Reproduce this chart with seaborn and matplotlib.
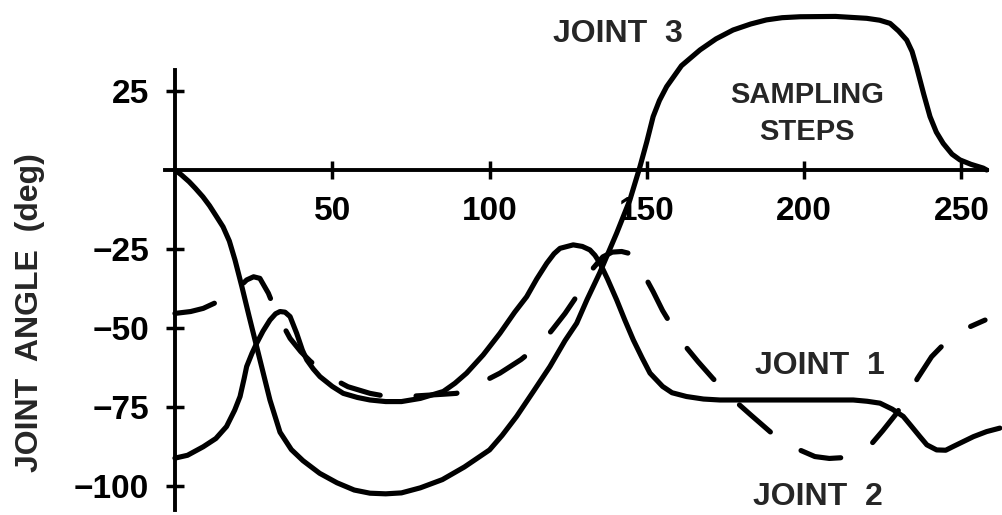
import numpy as np
import pandas as pd
import seaborn as sns
from matplotlib import pyplot as plt

# joint angle (deg) against sampling step
j1_step = [0, 4, 9, 13, 16.4, 19, 20.7, 22, 22.8, 24.5, 26, 28, 30.2, 32, 33.4, 35, 36.6, 38.7,
           40.5, 41.9, 44, 46.1, 50, 53.5, 58, 62, 67, 72, 78, 85.3, 89, 92.7, 98, 103.3, 108,
           111.8, 115, 118.2, 120.5, 122.4, 126.6, 129.5, 131.9, 133.5, 135.1, 137.5, 140.4, 143,
           145.7, 148.5, 151, 155, 158, 162.6, 168, 173.2, 185, 200, 215.6, 220, 224.1, 228, 231.5,
           234, 236.8, 239, 242.1, 245, 247.4, 250.5, 253.8, 258, 262.2]
j1_deg = [-91.2, -90.3, -87.6, -85, -81.2, -76, -71.7, -66, -62.2, -58, -54.8, -51, -47.5, -45.5,
          -44.8, -45, -46.4, -51.7, -57, -60.1, -63, -65.4, -68.5, -70.7, -72, -72.8, -73.3, -73.3,
          -72.3, -70.1, -67.5, -64.3, -58.5, -51.7, -45, -40.1, -34.5, -29.5, -26.5, -24.8, -23.7,
          -24.2, -25.3, -27, -29.5, -34.5, -41.1, -47.5, -53.8, -59.5, -64.3, -68.5, -70.5, -71.7,
          -72.5, -72.8, -72.8, -72.8, -72.8, -73.2, -73.8, -75.7, -78, -81, -84.4, -87, -88.6,
          -88.7, -87.5, -86, -84.4, -82.8, -81.7]

j2_step = [0, 5, 9, 14, 18.5, 22.8, 25, 27, 29.7, 32.3, 36.6, 40, 43, 46, 49.3, 55, 62, 68, 73.6,
           80, 85, 89.5, 94, 99, 103.3, 110, 116.5, 120, 124, 127, 129.8, 133, 136, 139, 142, 144,
           146.2, 149, 152, 155, 158.4, 162, 166.3, 171, 177, 183, 189.7, 196, 203.4, 208, 213,
           217, 221.4, 225, 229, 232.6, 236, 240.5, 245, 251.6, 257.5]
j2_deg = [-45.4, -44.8, -43.8, -41.5, -39, -34.8, -33.8, -34.3, -39, -45.4, -53.3, -57.5, -60.5,
          -63, -65.6, -68.6, -70.7, -71.8, -71.7, -71.3, -71, -70.7, -68.5, -66.5, -64.3, -60,
          -54.8, -50.5, -45.4, -41, -36.4, -31, -27.5, -26, -25.8, -26.3, -27.9, -33, -38.5, -44.5,
          -50.1, -55.5, -60.7, -66, -72.2, -77.5, -83.3, -87.5, -90.7, -91.3, -91, -89.5, -86.7,
          -82.5, -77.5, -72.2, -66, -59.1, -54.5, -50.1, -47.5]

j3_step = [0, 2, 4.5, 6.5, 8.9, 11, 13, 15.3, 17.3, 19.1, 21.3, 23.5, 25.5, 28, 30.2, 33.4, 37,
           40.7, 46, 51.5, 57, 62, 67, 72, 78, 85, 92, 100, 104, 108.6, 114, 119.2, 124, 127.7,
           131, 135, 140.4, 144.6, 147.8, 150, 152, 154, 156.3, 161, 166.9, 172, 177.4, 183, 188,
           193, 198.7, 210, 219.9, 224, 227.3, 230, 232.6, 234.3, 235.7, 238, 240, 242, 244.2,
           247, 249.5, 253, 256.9, 258]
j3_deg = [0, -1.5, -3.7, -5.8, -8.5, -11.3, -14.4, -18, -22.5, -28.5, -37, -46, -54, -64, -72.8,
          -83, -88.5, -92, -96, -99, -101.3, -102.3, -102.5, -102.2, -100.6, -98, -94, -88.6, -84,
          -78, -70, -62.2, -54, -48.5, -41, -32.6, -20, -9.5, 1, 9, 16.9, 22, 26.4, 33, 38, 41.5,
          44.3, 46.2, 47.5, 48.2, 48.5, 48.6, 48, 47.4, 46.4, 44, 41.1, 37.5, 32.7, 24, 16.9, 12,
          8.4, 5, 3.2, 1.8, 0.6, 0]

x_ticks = [50, 100, 150, 200, 250]
y_ticks = [25, -25, -50, -75, -100]

df = pd.concat([
    pd.DataFrame({'step': j1_step, 'deg': j1_deg, 'joint': 'JOINT 1'}),
    pd.DataFrame({'step': j2_step, 'deg': j2_deg, 'joint': 'JOINT 2'}),
    pd.DataFrame({'step': j3_step, 'deg': j3_deg, 'joint': 'JOINT 3'}),
], ignore_index=True)

sns.set_theme(style='white')
plt.rcParams['font.family'] = ['Liberation Sans', 'DejaVu Sans']
plt.rcParams['font.weight'] = 'bold'

fig = plt.figure(figsize=(10.03, 5.15), dpi=100)
ax = fig.add_axes([0, 0, 1, 1])

sns.lineplot(data=df, x='step', y='deg', hue='joint', style='joint',
             palette=['black'] * 3,
             dashes={'JOINT 1': '', 'JOINT 2': (8, 7), 'JOINT 3': ''},
             lw=3.7, legend=False, ax=ax, solid_capstyle='round',
             dash_capstyle='round', solid_joinstyle='round')

ax.set_xlim(-55.6, 263.2)
ax.set_ylim(-109.2, 53.8)
ax.spines['top'].set_visible(False)
ax.spines['right'].set_visible(False)
ax.spines['left'].set_position(('data', 0))
ax.spines['bottom'].set_position(('data', 0))
ax.spines['left'].set_bounds(-107.6, 31.6)
ax.spines['bottom'].set_bounds(-3, 258)
for s in ['left', 'bottom']:
    ax.spines[s].set_linewidth(2.8)
    ax.spines[s].set_color('black')

ax.set_xticks(x_ticks)
ax.set_yticks(y_ticks)
ax.tick_params(bottom=True, left=True, direction='inout', length=13, width=2.5,
               color='black', labelcolor='black', labelsize=24, pad=12)
ax.set_xlabel('')
ax.set_ylabel('JOINT  ANGLE  (deg)', fontsize=23, fontweight='bold')
ax.yaxis.set_label_coords(30 / 1003, 1 - 313 / 515)
ax.yaxis.label.set_va('center')

ax.text(140.8, 40.6, 'JOINT  3', ha='center', va='baseline', fontsize=23)
# multi-line text: baseline alignment goes to the last line
ax.text(200.9, 9.5, 'SAMPLING\nSTEPS', ha='center', va='baseline', fontsize=21,
        linespacing=1.42)
ax.text(204.9, -64.6, 'JOINT  1', ha='center', va='baseline', fontsize=23)
ax.text(204.3, -106, 'JOINT  2', ha='center', va='baseline', fontsize=23)

fig.savefig('out.png', dpi=100, facecolor='white')
